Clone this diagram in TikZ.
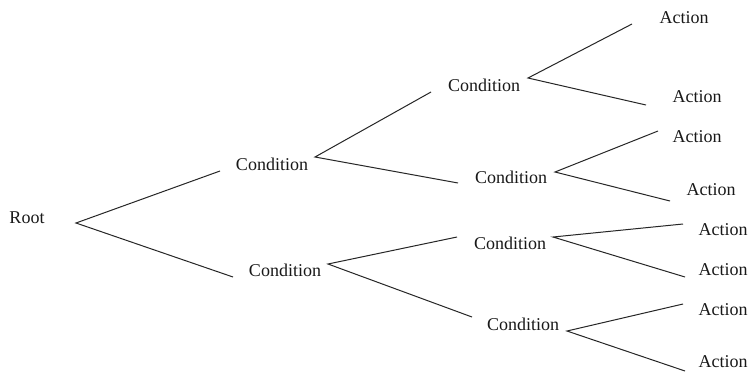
\documentclass[tikz,border=0pt]{standalone}
\usepackage{fontspec}
\setmainfont{Liberation Serif}
\begin{document}
\begin{tikzpicture}[x=1pt,y=-1pt,
  lbl/.style={inner sep=0pt,font=\fontsize{18}{20}\selectfont,text=black!90},
  edge/.style={draw=black!85,line width=1pt}]
\useasboundingbox[fill=white] (0,0) rectangle (752,376);
% nodes
\node[lbl] (root) at (27,218) {Root};
\node[lbl] (c1) at (272,164) {Condition};
\node[lbl] (c2) at (285,270) {Condition};
\node[lbl] (c3) at (484,85) {Condition};
\node[lbl] (c4) at (511,177) {Condition};
\node[lbl] (c5) at (510,243) {Condition};
\node[lbl] (c6) at (523,324) {Condition};
\node[lbl] (a1) at (684,18) {Action};
\node[lbl] (a2) at (697,97) {Action};
\node[lbl] (a3) at (697,137) {Action};
\node[lbl] (a4) at (711,190) {Action};
\node[lbl] (a5) at (723,230) {Action};
\node[lbl] (a6) at (723,270) {Action};
\node[lbl] (a7) at (723,310) {Action};
\node[lbl] (a8) at (723,362) {Action};
% connector end points
\coordinate (rootout) at (76,223);
\coordinate (c1in) at (220,171);
\coordinate (c2in) at (233,277);
\coordinate (c1out) at (315,157);
\coordinate (c2out) at (328,264);
\coordinate (c3in) at (431,92);
\coordinate (c4in) at (458,183);
\coordinate (c5in) at (457,237);
\coordinate (c6in) at (472,317);
\coordinate (c3out) at (528,78);
\coordinate (c4out) at (555,172);
\coordinate (c5out) at (553,237);
\coordinate (c6out) at (567,331);
\coordinate (a1in) at (632,24);
\coordinate (a2in) at (646,105);
\coordinate (a3in) at (658,131);
\coordinate (a4in) at (670,201);
\coordinate (a5in) at (683,224);
\coordinate (a6in) at (685,277);
\coordinate (a7in) at (683,304);
\coordinate (a8in) at (685,371);
% connectors
\draw[edge] (c1in) -- (rootout) -- (c2in);
\draw[edge] (c3in) -- (c1out) -- (c4in);
\draw[edge] (c5in) -- (c2out) -- (c6in);
\draw[edge] (a1in) -- (c3out) -- (a2in);
\draw[edge] (a3in) -- (c4out) -- (a4in);
\draw[edge] (a5in) -- (c5out) -- (a6in);
\draw[edge] (a7in) -- (c6out) -- (a8in);
\end{tikzpicture}
\end{document}
